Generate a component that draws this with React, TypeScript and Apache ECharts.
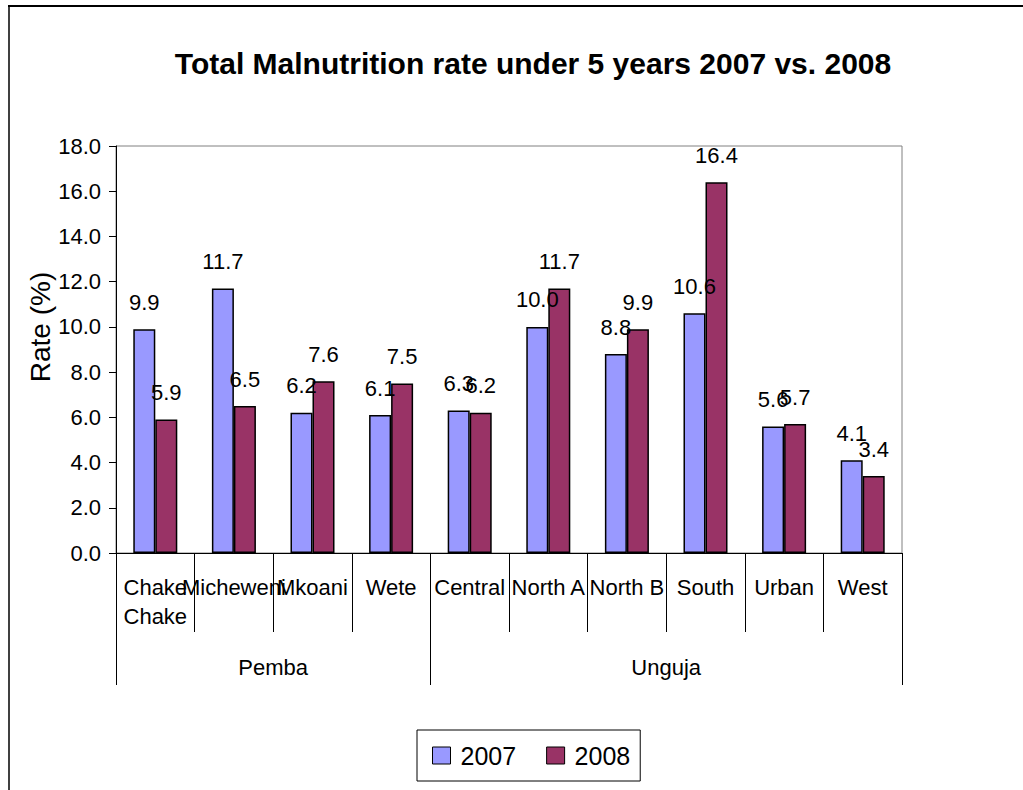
import React, { useEffect, useRef } from "react";
import * as echarts from "echarts";

const categories = ["Chake Chake", "Micheweni", "Mkoani", "Wete", "Central", "North A", "North B", "South", "Urban", "West"];
const groupNames = ["Pemba", "Unguja"];
const groupSizes = [4, 6];
const values2007 = [9.9, 11.7, 6.2, 6.1, 6.3, 10.0, 8.8, 10.6, 5.6, 4.1];
const values2008 = [5.9, 6.5, 7.6, 7.5, 6.2, 11.7, 9.9, 16.4, 5.7, 3.4];
const seriesNames = ["2007", "2008"];
const titleText = "Total Malnutrition rate under 5 years 2007 vs. 2008";
const yAxisName = "Rate (%)";

export default function App() {
  const ref = useRef<HTMLDivElement>(null);
  useEffect(() => {
    if (!ref.current) return;
    const chart = echarts.init(ref.current, null, { renderer: "svg" });
    const font = "'Liberation Sans', Arial, sans-serif";

    // group boundaries and centers derived from group sizes
    const bounds: number[] = [0];
    const centers: number[] = [];
    groupSizes.forEach((s) => {
      const start = bounds[bounds.length - 1];
      centers.push(start + s / 2);
      bounds.push(start + s);
    });
    const total = bounds[bounds.length - 1];

    const labelCfg = {
      show: true,
      position: "top" as const,
      distance: 16,
      fontSize: 22,
      color: "#000",
      fontFamily: font,
      formatter: (p: any) => Number(p.value).toFixed(1),
    };

    chart.setOption({
      animation: false,
      backgroundColor: "#fff",
      textStyle: { fontFamily: font },
      title: {
        text: titleText,
        left: 528,
        textAlign: "center",
        top: 43,
        textStyle: { fontSize: 30, fontWeight: "bold", color: "#000", fontFamily: font },
      },
      legend: {
        left: 417,
        top: 730,
        orient: "horizontal",
        icon: "rect",
        itemWidth: 18,
        itemHeight: 17,
        itemGap: 30,
        padding: [13, 10, 13, 15],
        borderColor: "#000",
        borderWidth: 1,
        itemStyle: { borderColor: "#000", borderWidth: 1 },
        textStyle: { fontSize: 25, color: "#000", fontFamily: font, padding: [0, 0, 0, 5] },
        data: seriesNames,
      },
      grid: {
        left: 116,
        right: 121,
        top: 146,
        bottom: 237,
        show: true,
        borderColor: "#808080",
        borderWidth: 1,
        backgroundColor: "transparent",
      },
      xAxis: [
        {
          type: "category",
          data: categories,
          position: "bottom",
          axisLine: { show: true, lineStyle: { color: "#000", width: 1 } },
          axisTick: { show: true, interval: 0, length: 79, lineStyle: { color: "#000" } },
          axisLabel: {
            interval: 0,
            fontSize: 22,
            lineHeight: 29,
            margin: 20,
            color: "#000",
            fontFamily: font,
            formatter: (v: string) => (v.indexOf(" ") > 0 && v.length > 8 ? v.replace(" ", "\n") : v),
          },
          splitLine: { show: false },
        },
        {
          type: "value",
          position: "bottom",
          min: 0,
          max: total,
          axisLine: { show: false },
          splitLine: { show: false },
          axisTick: {
            show: true,
            length: 132,
            customValues: bounds,
            lineStyle: { color: "#000" },
          },
          axisLabel: {
            show: true,
            customValues: centers,
            margin: 103,
            fontSize: 22,
            color: "#000",
            fontFamily: font,
            formatter: (v: number) => {
              const i = centers.indexOf(v);
              return i >= 0 ? groupNames[i] : "";
            },
          },
        },
      ],
      yAxis: {
        type: "value",
        min: 0,
        max: 18,
        interval: 2,
        axisLine: { show: true, lineStyle: { color: "#000" } },
        axisTick: { show: true, length: 7, lineStyle: { color: "#000" } },
        axisLabel: {
          fontSize: 22,
          margin: 15,
          color: "#000",
          fontFamily: font,
          formatter: (v: number) => v.toFixed(1),
        },
        splitLine: { show: false },
      },
      series: [
        {
          name: seriesNames[0],
          type: "bar",
          data: values2007,
          barGap: "0%",
          barCategoryGap: "44%",
          itemStyle: { color: "#9999FF", borderColor: "#000", borderWidth: 1.5 },
          label: labelCfg,
        },
        {
          name: seriesNames[1],
          type: "bar",
          data: values2008,
          barGap: "0%",
          barCategoryGap: "44%",
          itemStyle: { color: "#993366", borderColor: "#000", borderWidth: 1.5 },
          label: labelCfg,
        },
      ],
      graphic: [
        { type: "line", shape: { x1: 8, y1: 6, x2: 1023, y2: 6 }, style: { stroke: "#000", lineWidth: 2 } },
        { type: "line", shape: { x1: 9, y1: 6, x2: 9, y2: 790 }, style: { stroke: "#000", lineWidth: 1.5 } },
        {
          type: "text",
          x: 40,
          y: 327,
          rotation: Math.PI / 2,
          style: {
            text: yAxisName,
            fontSize: 28,
            fontFamily: font,
            fill: "#000",
            align: "center",
            verticalAlign: "middle",
          },
        },
      ],
    });
    return () => chart.dispose();
  }, []);
  return (
    <div
      ref={ref}
      style={{ position: "absolute", left: 0, top: 0, width: 1023, height: 790 }}
    />
  );
}
